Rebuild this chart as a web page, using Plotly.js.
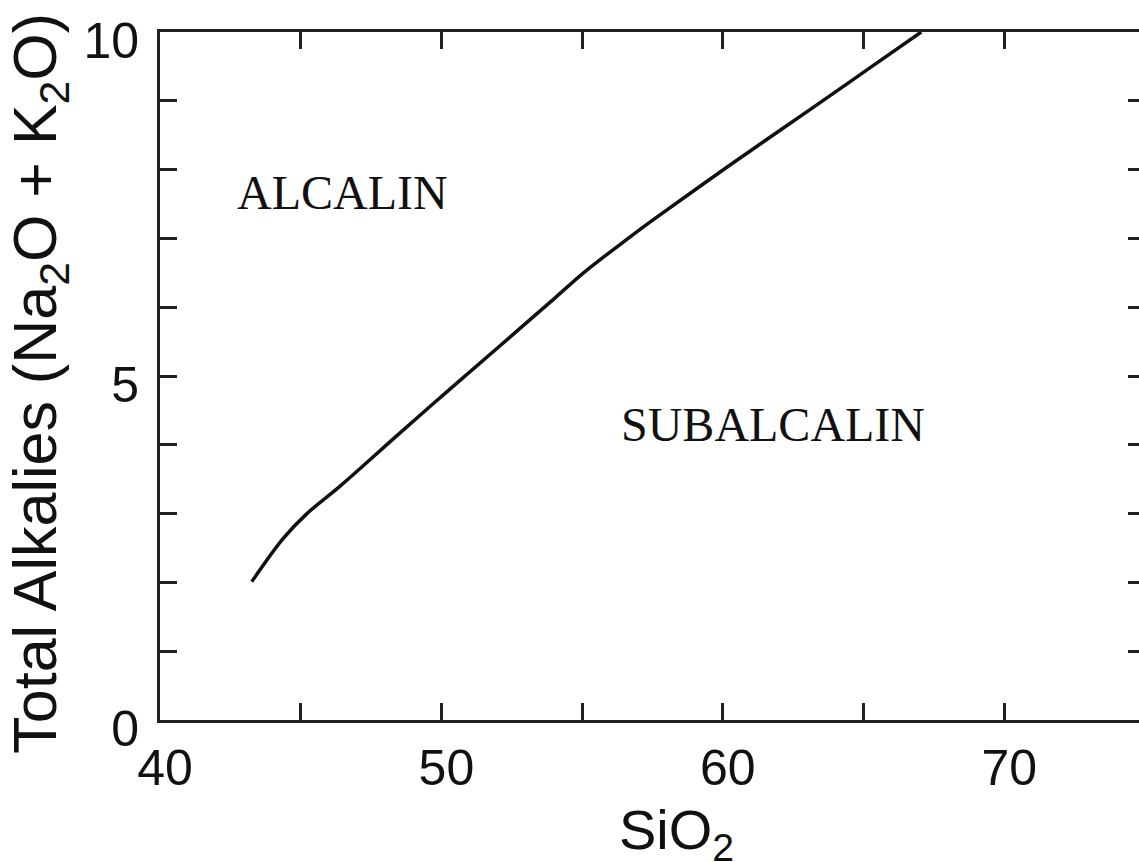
<!DOCTYPE html>
<html>
<head>
<meta charset="utf-8">
<script src="https://cdn.plot.ly/plotly-3.0.1.min.js"></script>
<style>
  html, body { margin: 0; padding: 0; overflow: hidden; background: #ffffff; }
  #chart { width: 1160px; height: 862px; }
</style>
</head>
<body>
<div id="chart"></div>
<script>
// Alkaline / subalkaline dividing line
const silica = [43.26, 44.38, 45.22, 46.40, 48.41, 50.19, 51.97, 54.05, 55.05, 56.60, 57.42, 60.37, 63.34, 65.12, 67.05];
const alkalies = [2.01, 2.64, 3.00, 3.40, 4.13, 4.77, 5.40, 6.14, 6.50, 6.99, 7.24, 8.10, 8.94, 9.45, 10.0];

const xTickVals = [40, 45, 50, 55, 60, 65, 70, 75];
const xTickText = ['40', '', '50', '', '60', '', '70', ''];
const yTickVals = [0, 1, 2, 3, 4, 5, 6, 7, 8, 9, 10];
const yTickText = ['0', '', '', '', '', '5', '', '', '', '', '10'];

const fieldLabels = ['ALCALIN', 'SUBALCALIN'];
const fieldX = [46.5, 61.78];
const fieldY = [7.66, 4.29];

const xTitle = 'SiO<sub>2</sub>';
const yTitle = 'Total Alkalies (Na<sub>2</sub>O + K<sub>2</sub>O)';

const axisColor = '#231f20';

const trace = {
  x: silica,
  y: alkalies,
  type: 'scatter',
  mode: 'lines',
  line: { color: '#111111', width: 3.5, shape: 'spline', smoothing: 1 },
  hoverinfo: 'skip',
  showlegend: false
};

const annotations = fieldLabels.map((t, i) => ({
  text: t,
  x: fieldX[i],
  y: fieldY[i],
  xref: 'x',
  yref: 'y',
  showarrow: false,
  xanchor: 'center',
  yanchor: 'middle',
  font: { family: 'Liberation Serif, Times New Roman, serif', size: 48, color: '#111111' }
}));

annotations.push({
  text: xTitle,
  x: 58.34,
  y: -0.165,
  xref: 'x',
  yref: 'paper',
  showarrow: false,
  xanchor: 'center',
  yanchor: 'middle',
  font: { family: 'Liberation Sans, Arial, sans-serif', size: 56, color: '#111111' }
});
annotations.push({
  text: yTitle,
  x: -0.122,
  y: 0.49,
  xref: 'paper',
  yref: 'paper',
  showarrow: false,
  textangle: -90,
  xanchor: 'center',
  yanchor: 'middle',
  font: { family: 'Liberation Sans, Arial, sans-serif', size: 61, color: '#111111' }
});

const layout = {
  width: 1160,
  height: 862,
  margin: { l: 160, r: 15, t: 32, b: 142, pad: 0 },
  paper_bgcolor: '#ffffff',
  plot_bgcolor: '#ffffff',
  showlegend: false,
  xaxis: {
    range: [40, 75],
    tickmode: 'array',
    tickvals: xTickVals,
    ticktext: xTickText,
    ticks: 'inside',
    ticklen: 17,
    tickwidth: 3,
    tickcolor: axisColor,
    showline: true,
    linewidth: 3,
    linecolor: axisColor,
    mirror: 'ticks',
    showgrid: false,
    zeroline: false,
    ticklabelstandoff: 2,
    ticklabelshift: 5,
    tickfont: { family: 'Liberation Sans, Arial, sans-serif', size: 50, color: '#111111' }
  },
  yaxis: {
    range: [0, 10],
    tickmode: 'array',
    tickvals: yTickVals,
    ticktext: yTickText,
    ticks: 'inside',
    ticklen: 17,
    tickwidth: 3,
    tickcolor: axisColor,
    showline: true,
    linewidth: 3,
    linecolor: axisColor,
    mirror: 'ticks',
    showgrid: false,
    zeroline: false,
    ticklabelstandoff: 8,
    ticklabelshift: 8,
    tickfont: { family: 'Liberation Sans, Arial, sans-serif', size: 50, color: '#111111' }
  },
  annotations: annotations
};

Plotly.newPlot('chart', [trace], layout, { staticPlot: true, displayModeBar: false });
</script>
</body>
</html>
